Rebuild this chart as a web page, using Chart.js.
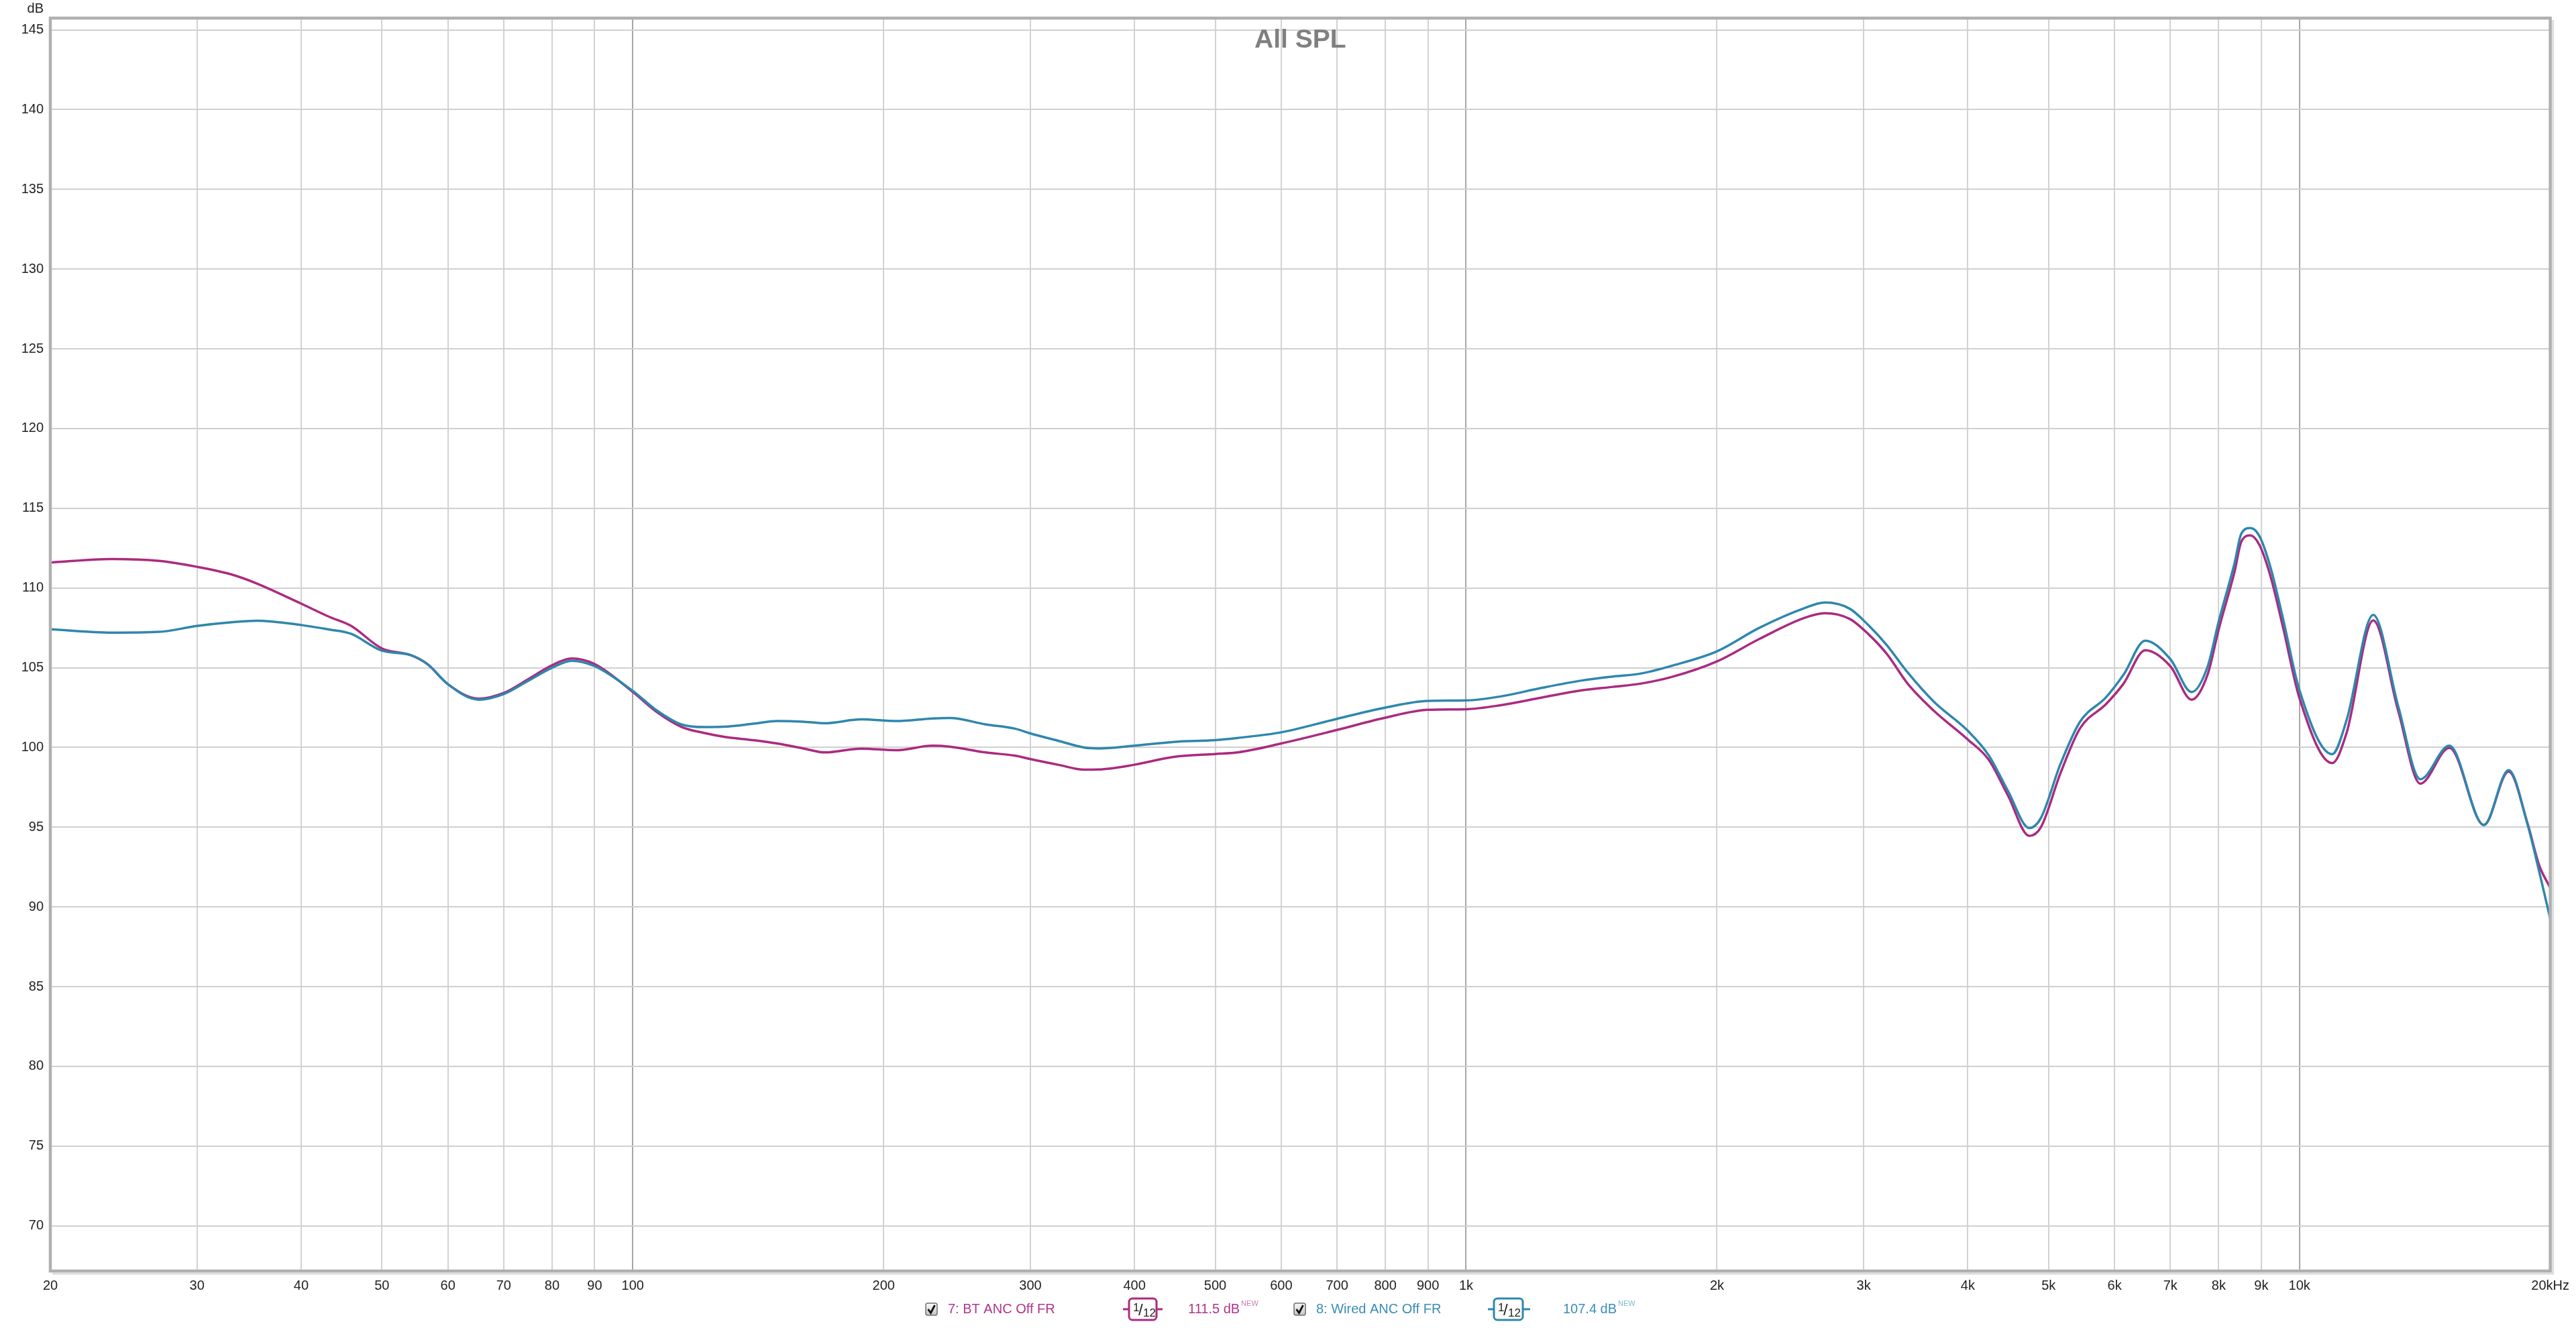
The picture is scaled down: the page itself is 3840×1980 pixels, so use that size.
<!DOCTYPE html>
<html>
<head>
<meta charset="utf-8">
<script src="https://cdn.jsdelivr.net/npm/chart.js@4/dist/chart.umd.min.js"></script>
<style>
  html, body { margin: 0; padding: 0; background: #ffffff; }
  #wrap { width: 3840px; height: 1980px; position: relative; }
  canvas { display: block; }
</style>
</head>
<body>
<div id="wrap"><canvas id="c" width="3840" height="1980"></canvas></div>
<script>
// ---------- data ----------
const freqs = [20, 23.7, 27, 30, 33, 35.4, 40, 43.2, 45.9, 50, 54.1, 56.7, 60, 65.3, 70, 75, 80, 84.5, 90, 100,
  107, 114.3, 122, 128.6, 140, 149, 160, 170, 188, 207, 229, 240, 265, 288, 300, 325, 348, 362, 400, 446,
  500, 532, 600, 700, 800, 900, 1000, 1100, 1233, 1376, 1500, 1618, 1764, 2000, 2248, 2548, 2695, 2887, 3043, 3200,
  3388, 3642, 4000, 4238, 4470, 4741, 4895, 5166, 5453, 5863, 6150, 6532, 7000, 7425, 7762, 8000, 8357, 8516, 8731, 8954,
  9236, 9560, 10000, 10948, 11390, 12262, 13137, 13967, 15131, 16650, 17826, 18790, 19400, 20000];

const btAncOff = [111.6, 111.82, 111.7, 111.33, 110.85, 110.28, 109.02, 108.2, 107.63, 106.21, 105.8, 105.23, 103.97, 103.06, 103.42, 104.3, 105.16, 105.58, 105.23, 103.48,
  102.2, 101.3, 100.9, 100.67, 100.45, 100.25, 99.95, 99.69, 99.93, 99.83, 100.11, 100.05, 99.69, 99.48, 99.27, 98.9, 98.61, 98.62, 98.92, 99.41,
  99.59, 99.69, 100.25, 101.1, 101.87, 102.36, 102.4, 102.65, 103.13, 103.58, 103.8, 104.0, 104.42, 105.4, 106.8, 108.13, 108.42, 108.06, 107.08, 105.85,
  104.0, 102.3, 100.5, 99.23, 96.98, 94.46, 95.0, 98.37, 101.19, 102.73, 104.0, 106.1, 105.1, 103.0, 104.6, 107.4, 111.0, 112.9, 113.3, 112.7,
  110.7, 107.5, 103.1, 99.02, 100.9, 107.97, 102.31, 97.73, 99.98, 95.14, 98.5, 95.2, 92.6, 91.2];

const wiredAncOff = [107.41, 107.2, 107.25, 107.62, 107.85, 107.95, 107.68, 107.4, 107.13, 106.07, 105.8, 105.23, 103.97, 103.0, 103.35, 104.2, 105.0, 105.44, 105.1, 103.55,
  102.3, 101.45, 101.28, 101.3, 101.5, 101.66, 101.62, 101.52, 101.76, 101.66, 101.82, 101.85, 101.45, 101.17, 100.88, 100.4, 100.0, 99.94, 100.11, 100.35,
  100.46, 100.6, 100.95, 101.8, 102.5, 102.92, 102.95, 103.2, 103.74, 104.2, 104.45, 104.63, 105.12, 106.03, 107.5, 108.74, 109.09, 108.7, 107.64, 106.4,
  104.7, 102.87, 101.05, 99.51, 97.27, 94.95, 95.58, 98.95, 101.61, 103.16, 104.56, 106.7, 105.54, 103.48, 105.1, 107.9, 111.54, 113.4, 113.76, 113.25,
  111.26, 108.05, 103.6, 99.58, 101.7, 108.32, 102.6, 98.01, 100.11, 95.14, 98.58, 95.14, 92.2, 89.25];

const xTicks = [20, 30, 40, 50, 60, 70, 80, 90, 100, 200, 300, 400, 500, 600, 700, 800, 900,
  1000, 2000, 3000, 4000, 5000, 6000, 7000, 8000, 9000, 10000, 20000];
const xTickLabels = ['20', '30', '40', '50', '60', '70', '80', '90', '100', '200', '300', '400', '500', '600', '700', '800', '900',
  '1k', '2k', '3k', '4k', '5k', '6k', '7k', '8k', '9k', '10k', '20kHz'];
const yTicks = [70, 75, 80, 85, 90, 95, 100, 105, 110, 115, 120, 125, 130, 135, 140, 145];

const seriesNames = ['7: BT ANC Off FR', '8: Wired ANC Off FR'];
const seriesLevels = ['111.5 dB', '107.4 dB'];
const titleText = 'All SPL';
const yUnit = 'dB';

// ---------- styles ----------
const MAGENTA = '#ab2a7f';
const BLUE = '#2e87ad';
const MAGENTA_TXT = '#b0358a';
const BLUE_TXT = '#3a8db6';
const FONT = '"Liberation Sans", Arial, sans-serif';

const decade = v => (v === 100 || v === 1000 || v === 10000);

const overlay = {
  id: 'overlay',
  afterDraw(chart) {
    const ctx = chart.ctx;
    const a = chart.chartArea;
    ctx.save();
    // frame shadow + frame
    ctx.strokeStyle = '#dcdcdc';
    ctx.lineWidth = 3;
    ctx.beginPath();
    ctx.moveTo(a.left + 3, a.bottom + 4);
    ctx.lineTo(a.right + 4, a.bottom + 4);
    ctx.lineTo(a.right + 4, a.top + 3);
    ctx.stroke();
    ctx.strokeStyle = '#b0b0b0';
    ctx.lineWidth = 4.5;
    ctx.strokeRect(a.left, a.top, a.right - a.left, a.bottom - a.top);

    // title
    ctx.fillStyle = '#808080';
    ctx.font = 'bold 39px ' + FONT;
    ctx.textAlign = 'center';
    ctx.textBaseline = 'alphabetic';
    ctx.fillText(titleText, (a.left + a.right) / 2, 71);

    // dB unit
    ctx.fillStyle = '#222';
    ctx.font = '20px ' + FONT;
    ctx.textAlign = 'right';
    ctx.textBaseline = 'middle';
    ctx.fillText(yUnit, 65, 13);

    // legend
    const yc = 1952;
    function checkbox(x) {
      const w = 17, h = 18, y = yc - 9;
      const g = ctx.createLinearGradient(0, y, 0, y + h);
      g.addColorStop(0, '#fbfbfb');
      g.addColorStop(1, '#c4c4c4');
      ctx.fillStyle = g;
      ctx.strokeStyle = '#6e6e6e';
      ctx.lineWidth = 1.5;
      ctx.beginPath();
      ctx.roundRect(x, y, w, h, 3);
      ctx.fill();
      ctx.stroke();
      ctx.strokeStyle = '#111';
      ctx.lineWidth = 2.8;
      ctx.beginPath();
      ctx.moveTo(x + 3.5, y + 9);
      ctx.lineTo(x + 7.5, y + 14.5);
      ctx.lineTo(x + 13.5, y + 3);
      ctx.stroke();
    }
    function fracBox(x0, x1, bx0, bx1, color) {
      ctx.strokeStyle = color;
      ctx.lineWidth = 3;
      ctx.beginPath();
      ctx.moveTo(x0, yc); ctx.lineTo(x1, yc);
      ctx.stroke();
      ctx.fillStyle = '#fff';
      ctx.beginPath();
      ctx.roundRect(bx0, yc - 16, bx1 - bx0, 32, 5);
      ctx.fill();
      ctx.stroke();
      ctx.fillStyle = '#222';
      ctx.textAlign = 'left';
      ctx.textBaseline = 'alphabetic';
      ctx.font = '17px ' + FONT;
      ctx.fillText('1', bx0 + 6, yc + 3);
      ctx.font = '24px ' + FONT;
      ctx.fillText('/', bx0 + 14, yc + 9);
      ctx.font = '17px ' + FONT;
      ctx.fillText('12', bx0 + 21, yc + 11);
    }
    function item(cbx, tx, name, fx0, fx1, bx0, bx1, lx, level, color, tcolor) {
      checkbox(cbx);
      ctx.fillStyle = tcolor;
      ctx.font = '20px ' + FONT;
      ctx.textAlign = 'left';
      ctx.textBaseline = 'middle';
      ctx.fillText(name, tx, yc);
      fracBox(fx0, fx1, bx0, bx1, color);
      ctx.fillStyle = tcolor;
      ctx.font = '20px ' + FONT;
      ctx.textAlign = 'left';
      ctx.textBaseline = 'middle';
      ctx.fillText(level, lx, yc);
      const w = ctx.measureText(level).width;
      ctx.globalAlpha = 0.65;
      ctx.font = '11px ' + FONT;
      ctx.fillText('NEW', lx + w + 2, yc - 8);
      ctx.globalAlpha = 1;
    }
    item(1380, 1413, seriesNames[0], 1674, 1733, 1683, 1724, 1771, seriesLevels[0], MAGENTA, MAGENTA_TXT);
    item(1929, 1962, seriesNames[1], 2218, 2281, 2227, 2270, 2330, seriesLevels[1], BLUE, BLUE_TXT);
    ctx.restore();
  }
};

new Chart(document.getElementById('c'), {
  type: 'line',
  data: {
    datasets: [
      {
        label: seriesNames[0],
        data: freqs.map((f, i) => ({ x: f, y: btAncOff[i] })),
        borderColor: MAGENTA,
        borderWidth: 3.5,
        pointRadius: 0,
        fill: false,
        cubicInterpolationMode: 'monotone',
        order: 1
      },
      {
        label: seriesNames[1],
        data: freqs.map((f, i) => ({ x: f, y: wiredAncOff[i] })),
        borderColor: BLUE,
        borderWidth: 3.5,
        pointRadius: 0,
        fill: false,
        cubicInterpolationMode: 'monotone',
        order: 0
      }
    ]
  },
  options: {
    responsive: false,
    animation: false,
    devicePixelRatio: 1,
    layout: { padding: { top: 27, right: 37, left: 0, bottom: 0 } },
    plugins: { legend: { display: false }, tooltip: { enabled: false }, title: { display: false } },
    scales: {
      x: {
        type: 'logarithmic',
        min: 20,
        max: 20000,
        afterBuildTicks: s => { s.ticks = xTicks.map(v => ({ value: v })); },
        afterFit: s => { s.height = 85; },
        ticks: {
          autoSkip: false,
          maxRotation: 0,
          minRotation: 0,
          padding: 10,
          color: '#222',
          font: { family: FONT, size: 20 },
          callback: (v, i) => xTickLabels[i]
        },
        grid: {
          drawTicks: false,
          lineWidth: 2,
          color: c => (c.tick && decade(c.tick.value)) ? '#a6a6a6' : '#d2d2d2'
        },
        border: { display: false }
      },
      y: {
        type: 'linear',
        min: 67.17,
        max: 145.74,
        afterBuildTicks: s => { s.ticks = yTicks.map(v => ({ value: v })); },
        afterFit: s => { s.width = 75; },
        ticks: {
          padding: 10,
          color: '#222',
          font: { family: FONT, size: 20 },
          callback: v => String(v)
        },
        grid: { drawTicks: false, lineWidth: 2, color: '#d0d0d0' },
        border: { display: false }
      }
    }
  },
  plugins: [overlay]
});
</script>
</body>
</html>
